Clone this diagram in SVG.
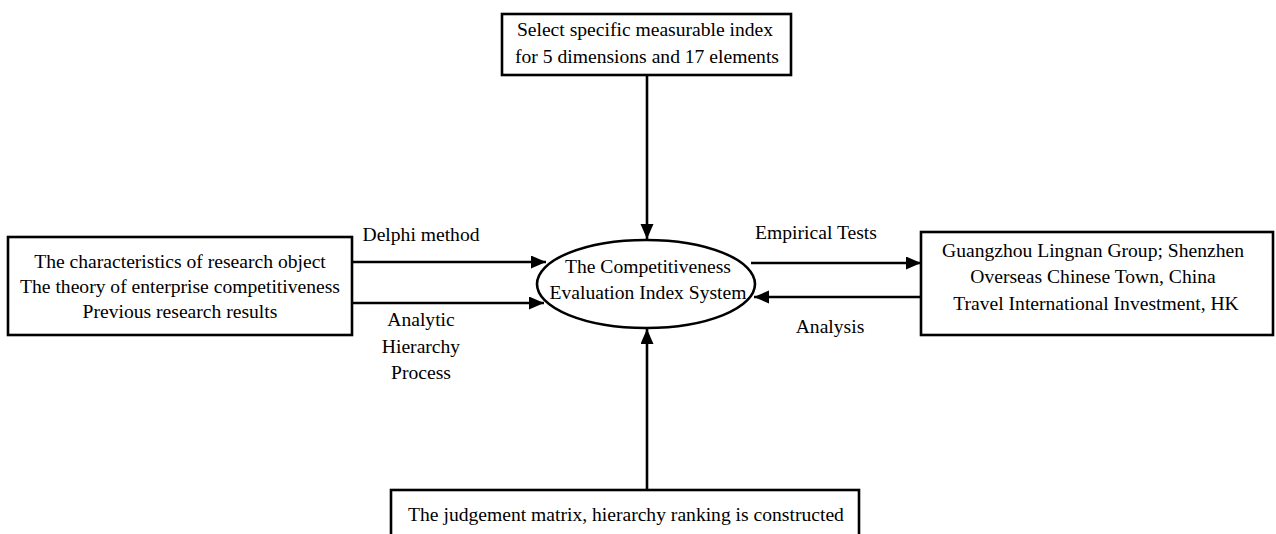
<svg xmlns="http://www.w3.org/2000/svg" width="1276" height="534" viewBox="0 0 1276 534">
<defs>
<style>
.box{fill:#fff;stroke:#000;stroke-width:2.6}
.t{font-family:'Liberation Serif','Times New Roman',serif;font-size:19.6px;fill:#000;text-anchor:middle}
.ln{stroke:#000;stroke-width:2.6;fill:none}
</style>
<marker id="ah" markerUnits="userSpaceOnUse" markerWidth="16" markerHeight="14" refX="15" refY="6.5" orient="auto">
<path d="M0,0 L15,6.5 L0,13 Z" fill="#000"/>
</marker>
</defs>
<rect width="1276" height="534" fill="#fff"/>
<g id="connectors">
<line class="ln" x1="647" y1="75" x2="647" y2="239" marker-end="url(#ah)"/>
<line class="ln" x1="647" y1="490" x2="647" y2="329" marker-end="url(#ah)"/>
<line class="ln" x1="352" y1="262" x2="546" y2="262" marker-end="url(#ah)"/>
<line class="ln" x1="352" y1="303" x2="544" y2="303" marker-end="url(#ah)"/>
<line class="ln" x1="751" y1="263" x2="921" y2="263" marker-end="url(#ah)"/>
<line class="ln" x1="921" y1="297" x2="754" y2="297" marker-end="url(#ah)"/>
<g font-family="Liberation Serif, serif">
<text class="t" x="421" y="241">Delphi method</text>
<text class="t" x="421" y="326">Analytic</text>
<text class="t" x="421" y="353">Hierarchy</text>
<text class="t" x="421" y="379">Process</text>
<text class="t" x="816" y="239">Empirical Tests</text>
<text class="t" x="830" y="333">Analysis</text>
</g>
</g>
<g id="top">
<rect class="box" x="502" y="14" width="289" height="61"/>
<text class="t" x="645" y="36">Select specific measurable index</text>
<text class="t" x="647" y="63">for 5 dimensions and 17 elements</text>
</g>
<g id="center">
<ellipse cx="646" cy="284" rx="109" ry="44" fill="#fff" stroke="#000" stroke-width="2.6"/>
<text class="t" x="648" y="273">The Competitiveness</text>
<text class="t" x="648" y="299">Evaluation Index System</text>
</g>
<g id="left">
<rect class="box" x="8" y="237" width="344" height="98"/>
<text class="t" x="180" y="268">The characteristics of research object</text>
<text class="t" x="180" y="293">The theory of enterprise competitiveness</text>
<text class="t" x="180" y="318">Previous research results</text>
</g>
<g id="right">
<rect class="box" x="921" y="232" width="352" height="103"/>
<text class="t" x="1093" y="257">Guangzhou Lingnan Group; Shenzhen</text>
<text class="t" x="1093" y="283">Overseas Chinese Town, China</text>
<text class="t" x="1096" y="310">Travel International Investment, HK</text>
</g>
<g id="bottom">
<rect class="box" x="391" y="490" width="468" height="60"/>
<text class="t" x="626" y="521">The judgement matrix, hierarchy ranking is constructed</text>
</g>
</svg>
